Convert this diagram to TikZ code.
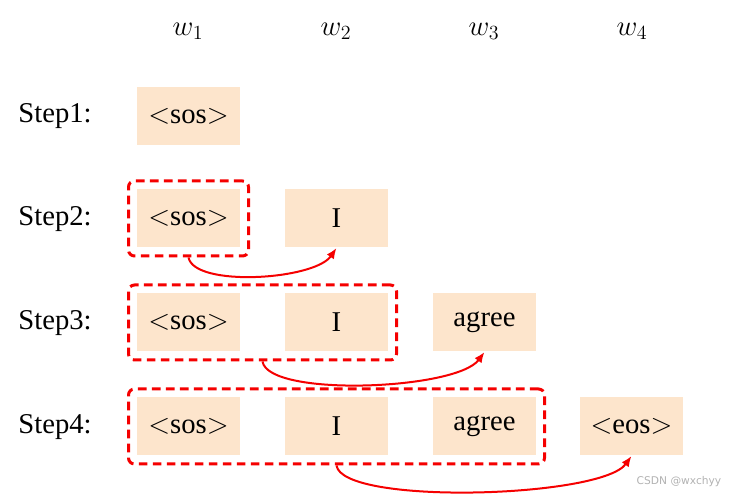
\documentclass[tikz,border=0pt]{standalone}
\usepackage{fix-cm}
\usepackage{fontspec}
\setmainfont{Liberation Serif}
\newfontfamily\wmfont{DejaVu Sans}
\usetikzlibrary{arrows.meta,fit}

\definecolor{peach}{RGB}{253,229,204}
\definecolor{winred}{RGB}{245,0,0}

\tikzset{every picture/.style={line width=0.75pt},
  tok/.style={fill=peach, minimum width=77.25pt, minimum height=43.5pt, inner sep=0pt, font=\fontsize{21.5}{26}\selectfont},
  lbl/.style={font=\fontsize{21.5}{26}\selectfont},
  win/.style={draw=winred, line width=2.25pt, dash pattern=on 6.5pt off 4pt, rounded corners=4.5pt, inner sep=6pt, fit=#1},
  nextarr/.style={draw=winred, line width=1.5pt, -{Latex[length=8pt,width=6.5pt]}}}

\begin{document}
\begin{tikzpicture}[x=0.75pt,y=0.75pt,yscale=-1,xscale=1]
\useasboundingbox (0,0) rectangle (733,495);

% Column heads
\node[lbl] (w1) at (188,31) {$w_1$};
\node[lbl] (w2) at (336,31) {$w_2$};
\node[lbl] (w3) at (484,31) {$w_3$};
\node[lbl] (w4) at (632,31) {$w_4$};

% Step labels
\node[lbl] (st1) at (55,116) {Step1:};
\node[lbl] (st2) at (55,219) {Step2:};
\node[lbl] (st3) at (55,323) {Step3:};
\node[lbl] (st4) at (55,427) {Step4:};

% Step 1
\node[tok] (a1) at (188.5,116) {$<$sos$>$};

% Step 2
\node[tok] (a2) at (188.5,218.5) {$<$sos$>$};
\node[tok] (b2) at (336.5,218.5) {I};

% Step 3
\node[tok] (a3) at (188.5,322.5) {$<$sos$>$};
\node[tok] (b3) at (336.5,322.5) {I};
\node[tok] (c3) at (484.5,322.5) {agree};

% Step 4
\node[tok] (a4) at (188.5,426.5) {$<$sos$>$};
\node[tok] (b4) at (336.5,426.5) {I};
\node[tok] (c4) at (484.5,426.5) {agree};
\node[tok] (d4) at (631.5,426.5) {$<$eos$>$};

% Dashed windows
\node[win=(a2)] (f2) {};
\node[win=(a3)(b3)] (f3) {};
\node[win=(a4)(c4)] (f4) {};

% Curved arrows
\draw[nextarr] (f2.south) .. controls +(6,30) and +(-22,32) .. (b2.south);
\draw[nextarr] (f3.south) .. controls +(6,36) and +(-28,38) .. (c3.south);
\draw[nextarr] (f4.south) .. controls +(6,40) and +(-30,42) .. (d4.south);

% Watermark
\node[font=\wmfont\fontsize{8}{9}\selectfont, text=black!30] (wm) at (679,482) {CSDN @wxchyy};

\end{tikzpicture}
\end{document}
